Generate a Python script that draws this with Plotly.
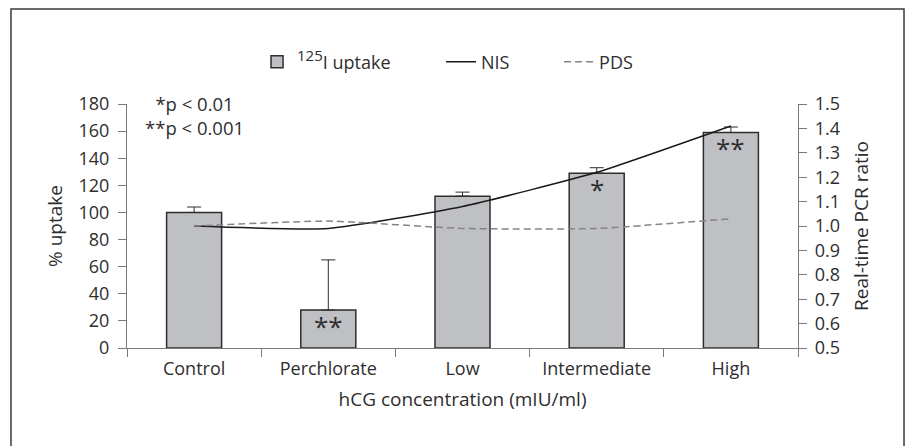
import plotly.graph_objects as go

categories = ["Control", "Perchlorate", "Low", "Intermediate", "High"]
uptake = [100, 28, 112, 129, 159]
uptake_err = [4, 37, 3, 4, 4]
nis_ratio = [1.0, 0.99, 1.08, 1.22, 1.41]
pds_ratio = [1.0, 1.02, 0.99, 0.99, 1.03]
significance = ["", "**", "", "*", "**"]
left_ticks = [0, 20, 40, 60, 80, 100, 120, 140, 160, 180]
right_ticks = [0.5, 0.6, 0.7, 0.8, 0.9, 1.0, 1.1, 1.2, 1.3, 1.4, 1.5]

FONT = "Open Sans"
TXT = "#2e2e2e"
AX = "#7a7a7a"

fig = go.Figure()
fig.add_trace(go.Bar(
    x=categories, y=uptake,
    name="<sup><span style='font-size:15px'>125</span></sup>I uptake",
    marker=dict(color="#bfc0c4", line=dict(color="#2e2e2e", width=1.5)),
    error_y=dict(type="data", symmetric=False, array=uptake_err,
                 arrayminus=[0] * len(uptake_err), color="#2e2e2e",
                 thickness=1, width=7),
    width=0.41, legend="legend",
))
fig.add_trace(go.Scatter(
    x=categories, y=nis_ratio, name="NIS", yaxis="y2", mode="lines",
    line=dict(color="#1a1a1a", width=1.5, shape="spline", smoothing=0.5),
    legend="legend2",
))
fig.add_trace(go.Scatter(
    x=categories, y=pds_ratio, name="PDS", yaxis="y2", mode="lines",
    line=dict(color="#858585", width=1.5, dash="7px,4px", shape="spline", smoothing=0.5),
    legend="legend3",
))

annotations = []
for c, v, s in zip(categories, uptake, significance):
    if s:
        annotations.append(dict(x=c, y=v, xref="x", yref="y", text=s,
                                showarrow=False, yanchor="top", yshift=4,
                                font=dict(family=FONT, size=26, color=TXT)))
annotations.append(dict(x="Control", y=171.5, xref="x", yref="y",
                        text="*p &lt; 0.01<br>**p &lt; 0.001", align="center",
                        showarrow=False, yanchor="middle",
                        font=dict(family=FONT, size=18.5, color=TXT)))

leg_common = dict(orientation="h", yanchor="middle", y=1.172, xanchor="left",
                  bgcolor="rgba(0,0,0,0)", borderwidth=0,
                  font=dict(family=FONT, size=18, color=TXT))

fig.update_layout(
    width=909, height=446,
    margin=dict(l=127, r=111, t=104, b=98),
    paper_bgcolor="white", plot_bgcolor="white",
    font=dict(family=FONT, size=18, color=TXT),
    showlegend=True,
    legend=dict(x=0.1938, **leg_common),
    legend2=dict(x=0.468, **leg_common),
    legend3=dict(x=0.6439, **leg_common),
    bargap=0.59,
    xaxis=dict(type="category", showline=True, linecolor=AX, linewidth=1.2,
               ticks="outside", tickson="boundaries", ticklen=8, tickcolor=AX,
               tickwidth=1.2, showgrid=False, zeroline=False, ticklabelstandoff=4,
               title=dict(text="hCG concentration (mIU/ml)", standoff=13,
                          font=dict(family=FONT, size=19, color=TXT)),
               tickfont=dict(family=FONT, size=18, color=TXT)),
    yaxis=dict(range=[0, 180], tickvals=left_ticks, showline=True, linecolor=AX,
               linewidth=1.2, ticks="outside", ticklen=8, tickcolor=AX, tickwidth=1.2,
               showgrid=False, zeroline=False, ticklabelstandoff=5,
               title=dict(text="% uptake", standoff=10,
                          font=dict(family=FONT, size=19, color=TXT)),
               tickfont=dict(family=FONT, size=18, color=TXT)),
    yaxis2=dict(range=[0.5, 1.5], tickvals=right_ticks, tickformat=".1f",
                overlaying="y", side="right", showline=True, linecolor=AX,
                linewidth=1.2, ticks="outside", ticklen=8, tickcolor=AX, tickwidth=1.2,
                showgrid=False, zeroline=False, ticklabelstandoff=4,
                title=dict(text="Real-time PCR ratio", standoff=15,
                           font=dict(family=FONT, size=19, color=TXT)),
                tickfont=dict(family=FONT, size=18, color=TXT)),
    annotations=annotations,
    shapes=[dict(type="rect", xref="paper", yref="paper",
                 x0=-0.1729, x1=1.158, y0=-0.42, y1=1.389,
                 line=dict(color="#3a3a3a", width=1.5), fillcolor="rgba(0,0,0,0)",
                 layer="below")],
)

fig.write_html("out.html")
